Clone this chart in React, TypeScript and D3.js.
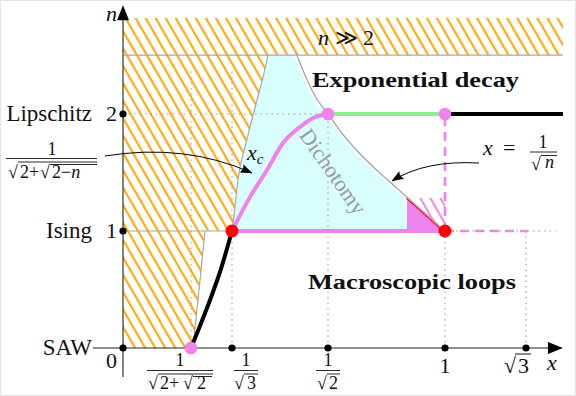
import React from 'react';
import * as d3 from 'd3';

type P = [number, number];

// Schematic (non-uniform) x axis: tick knots 0, 1/sqrt(2+sqrt2), 1/sqrt3, 1/sqrt2, 1, sqrt3
const xKnots = [0, 0.5412, 0.5774, 0.7071, 1, 1.7321];
const xAxisStart = -0.2388;
const xAxisEnd = 2.066;
const yAxisStart = -0.248;
const yAxisEnd = 2.93;
const bandBottom = 2.504;
const bandTop = 2.821;
const splitX = 0.9049;

// curves, (x, n)
const sawCurve: P[] = [[0.5412, 0], [0.5491, 0.188], [0.558, 0.41], [0.5668, 0.65], [0.5774, 1]];
const xcCurve: P[] = [[0.5774, 1], [0.6017, 1.291], [0.6247, 1.521], [0.6463, 1.752], [0.6693, 1.889], [0.6868, 1.966], [0.7071, 2]];
const hatchEdge: P[] = [[0.5774, 1], [0.5815, 1.205], [0.5842, 1.376], [0.5882, 1.547], [0.595, 1.718], [0.6017, 1.889], [0.6112, 2.12], [0.6193, 2.316], [0.626, 2.504]];
const lowerHatchEdge: P[] = [[0.5536, 1], [0.543, 0]];
const invSqrtCurve: P[] = [[0.6639, 2.521], [0.676, 2.333], [0.6895, 2.154], [0.7071, 2], [0.7497, 1.803], [0.7997, 1.615], [0.8623, 1.419], [0.9299, 1.214], [1, 1]];
const magHatch: P[] = [[0.9299, 1.282], [1, 1.282], [1, 1], [0.9299, 1.214]];

const axisDots: P[] = [[0, 0], [0, 1], [0, 2], [0.5774, 0], [0.7071, 0], [1, 0], [1.7321, 0]];
const violetDots: P[] = [[0.5412, 0], [0.7071, 2], [1, 2]];
const redDots: P[] = [[0.5774, 1], [1, 1]];

const vGuides: [number, number, number][] = [[0.5412, 0, 2.38], [0.5774, 0, 2.38], [0.7071, 0, 2], [1, 0, 1], [1.7321, 0, 1]];
const hGuides: [number, number, number][] = [[2, 0, 0.7071], [1, 1, 2.0]];

const yNames = [{ n: 2, tick: '2', name: 'Lipschitz' }, { n: 1, tick: '1', name: 'Ising' }, { n: 0, tick: '', name: 'SAW' }];

const arrow1: P[] = [[-0.1433, 1.641], [0.4935, 1.752], [0.6044, 1.496]];
const arrow2: P[] = [[1.3073, 1.581], [0.9499, 1.607], [0.8673, 1.427]];

const ORANGE = '#FFA500';
const CYAN = '#D9FEFE';
const VIOLET = '#EE82EE';
const GREEN = '#90EE90';
const GRAY = '#a8a8a8';
const SERIF = '"Liberation Serif", "DejaVu Serif", serif';

export default function App() {
  const W = 576, H = 396;
  const xs = d3.scaleLinear().domain(xKnots).range([123, 191, 232, 328, 445, 526]);
  const ys = d3.scaleLinear().domain([0, 1]).range([348, 231]);
  const smooth = d3.line<P>().x(d => xs(d[0])).y(d => ys(d[1])).curve(d3.curveMonotoneX);
  const straight = d3.line<P>().x(d => xs(d[0])).y(d => ys(d[1]));
  const cont = (s: string | null) => (s || '').replace(/^M/, 'L');
  const rev = (a: P[]) => [...a].reverse();

  const regionPath = (smooth(hatchEdge) || '') + cont(smooth(invSqrtCurve)) + 'Z';
  const leftHatchPath = `M${xs(0)},${ys(bandBottom)}` + cont(d3.line<P>().x(d => xs(d[0])).y(d => ys(d[1])).curve(d3.curveMonotoneX)(rev(hatchEdge))) + cont(straight(lowerHatchEdge)) + `L${xs(0)},${ys(0)}Z`;
  const x0 = xs(0), y0 = ys(0);
  const xe = xs(xAxisEnd), ye = ys(yAxisEnd);

  const quad = (a: P[]) => `M${xs(a[0][0])},${ys(a[0][1])}Q${xs(a[1][0])},${ys(a[1][1])} ${xs(a[2][0])},${ys(a[2][1])}`;

  const ink = '#111';

  return (
    <svg width={W} height={H} style={{ position: 'absolute', left: 0, top: 0, fontFamily: SERIF }} xmlns="http://www.w3.org/2000/svg">
      <defs>
        <pattern id="hatchO" patternUnits="userSpaceOnUse" width="8.7" height="10" patternTransform="rotate(-30)">
          <line x1="4" y1="-2" x2="4" y2="12" stroke={ORANGE} strokeWidth="2" />
        </pattern>
        <pattern id="hatchV" patternUnits="userSpaceOnUse" width="8.7" height="10" patternTransform="rotate(-30)">
          <line x1="4" y1="-2" x2="4" y2="12" stroke={VIOLET} strokeWidth="2" />
        </pattern>
        <clipPath id="cyanClip">
          <rect x={0} y={ys(bandBottom)} width={xs(splitX)} height={ys(1) - ys(bandBottom)} />
        </clipPath>
        <clipPath id="magClip">
          <rect x={xs(splitX)} y={0} width={W} height={ys(1)} />
        </clipPath>
        <marker id="arr" markerUnits="userSpaceOnUse" viewBox="0 0 12 9" refX="11.5" refY="4.5" markerWidth="12" markerHeight="9" orient="auto">
          <path d="M0,0 L12,4.5 L0,9 Q3,4.5 0,0Z" fill="#000" />
        </marker>
      </defs>
      <rect x={0.5} y={0.5} width={W - 1} height={H - 1} fill="#fff" stroke="#e4e4e4" />

      {/* hatched regions */}
      <rect x={x0} y={ys(bandTop)} width={xe - x0} height={ys(bandBottom) - ys(bandTop)} fill="url(#hatchO)" />
      <path d={leftHatchPath} fill="url(#hatchO)" />

      {/* dichotomy region */}
      <path d={regionPath} fill={CYAN} clipPath="url(#cyanClip)" />
      <path d={smooth(invSqrtCurve) || ''} fill="none" stroke="#fff" strokeWidth={5} clipPath="url(#cyanClip)" />
      <path d={regionPath} fill={VIOLET} clipPath="url(#magClip)" />
      <path d={straight(magHatch) + 'Z'} fill="url(#hatchV)" />

      {/* boundaries */}
      <line x1={x0} x2={xe} y1={ys(bandBottom)} y2={ys(bandBottom)} stroke={GRAY} strokeWidth={1.2} />
      <line x1={x0} x2={xs(0.5774)} y1={ys(1)} y2={ys(1)} stroke={GRAY} strokeWidth={1.2} />
      <path d={smooth(hatchEdge) || ''} fill="none" stroke={GRAY} strokeWidth={1.2} />
      <path d={straight(lowerHatchEdge) || ''} fill="none" stroke={GRAY} strokeWidth={1.2} />
      <path d={smooth(invSqrtCurve) || ''} fill="none" stroke="#ff0000" strokeWidth={1.1} clipPath="url(#magClip)" transform="translate(-0.7,1.1)" />
      <path d={smooth(invSqrtCurve) || ''} fill="none" stroke={GRAY} strokeWidth={1.4} />

      {/* guides */}
      {vGuides.map(([x, a, b], i) => (
        <line key={'v' + i} x1={xs(x)} x2={xs(x)} y1={ys(a)} y2={ys(b)} stroke="#999" strokeWidth={1} strokeDasharray="1.5 4" />
      ))}
      {hGuides.map(([n, a, b], i) => (
        <line key={'h' + i} x1={xs(a)} x2={xs(b)} y1={ys(n)} y2={ys(n)} stroke="#999" strokeWidth={1} strokeDasharray="1.5 4" />
      ))}

      {/* axes */}
      <line x1={xs(xAxisStart)} x2={xe - 8} y1={y0} y2={y0} stroke="#222" strokeWidth={1.1} />
      <path d={`M${xe},${y0} L${xe - 15},${y0 - 6} L${xe - 15},${y0 + 6} Z`} fill="#000" />
      <line x1={x0} x2={x0} y1={ys(yAxisStart)} y2={ye + 8} stroke="#222" strokeWidth={1.1} />
      <path d={`M${x0},${ye} L${x0 - 6},${ye + 15} L${x0 + 6},${ye + 15} Z`} fill="#000" />

      {/* phase lines */}
      <path d={smooth(sawCurve) || ''} fill="none" stroke="#000" strokeWidth={4} />
      <path d={smooth(xcCurve) || ''} fill="none" stroke={VIOLET} strokeWidth={4} />
      <path d={straight([[0.5774, 1], [1, 1]]) || ''} stroke={VIOLET} strokeWidth={4} />
      <path d={straight([[0.7071, 2], [1, 2]]) || ''} stroke={GREEN} strokeWidth={4} />
      <path d={straight([[1, 2], [xAxisEnd, 2]]) || ''} stroke="#000" strokeWidth={4} />
      <path d={straight([[1, 1], [1, 2]]) || ''} stroke={VIOLET} strokeWidth={2.6} strokeDasharray="9 6" />
      <path d={straight([[1, 1], [1.75, 1]]) || ''} stroke={VIOLET} strokeWidth={2.6} strokeDasharray="9 6" />

      {/* dots */}
      {axisDots.map((d, i) => <circle key={'a' + i} cx={xs(d[0])} cy={ys(d[1])} r={3.6} fill="#000" />)}
      {violetDots.map((d, i) => <circle key={'p' + i} cx={xs(d[0])} cy={ys(d[1])} r={6.3} fill={VIOLET} />)}
      {redDots.map((d, i) => <circle key={'r' + i} cx={xs(d[0])} cy={ys(d[1])} r={6.5} fill="#ff0000" />)}

      {/* annotation arrows */}
      <path d={quad(arrow1)} fill="none" stroke="#000" strokeWidth={1} markerEnd="url(#arr)" />
      <path d={quad(arrow2)} fill="none" stroke="#000" strokeWidth={1} markerEnd="url(#arr)" />

      {/* y labels */}
      <g fill={ink} fontSize={23}>
        <text x={x0 - 17} y={ye + 16} fontStyle="italic" fontSize={22}>n</text>
        {yNames.map(d => (
          <g key={d.name}>
            <text x={x0 - 31} y={ys(d.n) + 7} textAnchor="end">{d.name}</text>
            {d.tick && <text x={x0 - 6} y={ys(d.n) + 7} textAnchor="end" fontSize={22}>{d.tick}</text>}
          </g>
        ))}
        <text x={x0 - 6} y={y0 + 20} textAnchor="end" fontSize={22}>0</text>
      </g>

      {/* x tick labels */}
      <g fill={ink} fontSize={18}>
        {/* 1/sqrt(2+sqrt2) */}
        <text x={180} y={366} textAnchor="middle">1</text>
        <line x1={147} x2={213} y1={370.5} y2={370.5} stroke={ink} strokeWidth={0.9} />
        <text x={148} y={389}>√</text>
        <line x1={158} x2={213} y1={374} y2={374} stroke={ink} strokeWidth={0.9} />
        <text x={160} y={389}>2+</text>
        <text x={183} y={389}>√</text>
        <line x1={193} x2={212} y1={376.5} y2={376.5} stroke={ink} strokeWidth={0.9} />
        <text x={197} y={389}>2</text>
        {/* 1/sqrt3 */}
        <text x={246} y={366} textAnchor="middle">1</text>
        <line x1={234} x2={258} y1={370.5} y2={370.5} stroke={ink} strokeWidth={0.9} />
        <text x={234} y={389}>√</text>
        <line x1={244} x2={258} y1={374} y2={374} stroke={ink} strokeWidth={0.9} />
        <text x={247} y={389}>3</text>
        {/* 1/sqrt2 */}
        <text x={xs(0.7071)} y={366} textAnchor="middle">1</text>
        <line x1={xs(0.7071) - 12} x2={xs(0.7071) + 12} y1={370.5} y2={370.5} stroke={ink} strokeWidth={0.9} />
        <text x={xs(0.7071) - 11} y={389}>√</text>
        <line x1={xs(0.7071) - 1} x2={xs(0.7071) + 12} y1={374} y2={374} stroke={ink} strokeWidth={0.9} />
        <text x={xs(0.7071) + 1} y={389}>2</text>
      </g>
      <g fill={ink} fontSize={22}>
        <text x={xs(1)} y={373} textAnchor="middle">1</text>
        <text x={xs(1.7321) - 22} y={373}>√</text>
        <line x1={xs(1.7321) - 11} x2={xs(1.7321) + 5} y1={354} y2={354} stroke={ink} strokeWidth={1} />
        <text x={xs(1.7321) - 8} y={373}>3</text>
        <text x={547} y={370} fontStyle="italic">x</text>
      </g>

      {/* left formula 1/sqrt(2+sqrt(2-n)) */}
      <g fill={ink} fontSize={18}>
        <text x={52} y={155} textAnchor="middle">1</text>
        <line x1={6} x2={97} y1={158.5} y2={158.5} stroke={ink} strokeWidth={0.9} />
        <text x={8} y={178}>√</text>
        <line x1={18} x2={97} y1={162} y2={162} stroke={ink} strokeWidth={0.9} />
        <text x={20} y={178}>2+</text>
        <text x={40} y={178}>√</text>
        <line x1={50} x2={97} y1={164.5} y2={164.5} stroke={ink} strokeWidth={0.9} />
        <text x={52} y={178}>2−<tspan fontStyle="italic">n</tspan></text>
      </g>

      {/* x = 1/sqrt(n) */}
      <g fill={ink} fontSize={22}>
        <text x={483} y={155} fontStyle="italic">x</text>
        <text x={503} y={155}>=</text>
      </g>
      <g fill={ink} fontSize={18}>
        <text x={543} y={148} textAnchor="middle">1</text>
        <line x1={530} x2={557} y1={152} y2={152} stroke={ink} strokeWidth={0.9} />
        <text x={531} y={170}>√</text>
        <line x1={541} x2={557} y1={155.5} y2={155.5} stroke={ink} strokeWidth={0.9} />
        <text x={545} y={168} fontStyle="italic">n</text>
      </g>

      {/* x_c */}
      <text x={247} y={160} fill={ink} fontSize={22} fontStyle="italic">x<tspan fontSize={15} dy={4}>c</tspan></text>

      {/* region labels */}
      <text x={318} y={45} fill={ink} fontSize={22}><tspan fontStyle="italic">n</tspan> ≫ 2</text>
      <text x={312} y={87} fill={ink} fontSize={22} fontWeight="bold" textLength={207} lengthAdjust="spacingAndGlyphs">Exponential decay</text>
      <text x={308} y={289} fill={ink} fontSize={22} fontWeight="bold" textLength={208} lengthAdjust="spacingAndGlyphs">Macroscopic loops</text>
      <text x={0} y={0} fontSize={22} fill="#9a9a9a" textAnchor="middle" dominantBaseline="central"
        transform={`translate(${xs(0.7071) + 5},${ys(1.5) - 1}) rotate(55)`}>Dichotomy</text>
    </svg>
  );
}
